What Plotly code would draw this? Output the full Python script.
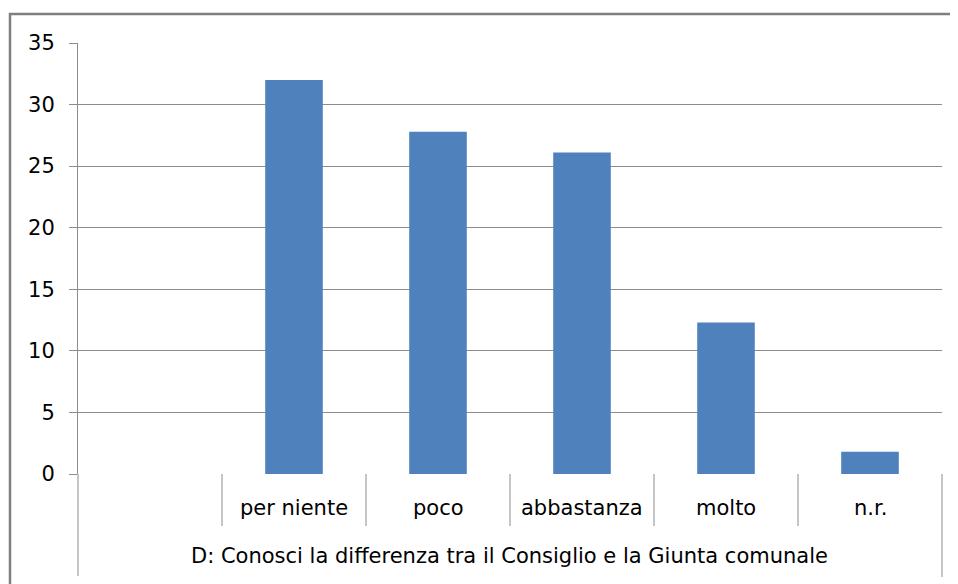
import plotly.graph_objects as go

categories = ["per niente", "poco", "abbastanza", "molto", "n.r."]
values = [32, 27.8, 26.1, 12.3, 1.8]
y_ticks = [0, 5, 10, 15, 20, 25, 30, 35]
group_label = "D: Conosci la differenza tra il Consiglio e la Giunta comunale"

# the page body has an 8px margin, so the figure is drawn 8px in from the top-left
OFF = 8
W, H = 958 - OFF, 584 - OFF
L, T = 78 - OFF, 43 - OFF
R = W - (942 - OFF)
B = H - (474 - OFF)
ph = H - T - B
pw = W - L - R

def py(px):
    # page pixel y -> paper y
    return (474 - px) / ph

def pxx(px):
    # page pixel x -> paper x
    return (px - 78) / pw

FONT = "DejaVu Sans"
FS = 21
GRID = "#8c8c8c"

fig = go.Figure()
fig.add_trace(go.Bar(x=categories, y=values, width=0.4,
                     marker=dict(color="#4F81BD", line=dict(width=0))))

shapes = []
for i in range(len(categories)):
    shapes.append(dict(type="line", xref="x", yref="paper", x0=i - 0.5, x1=i - 0.5,
                       y0=0, y1=py(526), line=dict(color=GRID, width=1)))
shapes.append(dict(type="line", xref="paper", yref="paper", x0=0, x1=0,
                   y0=0, y1=py(576), line=dict(color=GRID, width=1)))
shapes.append(dict(type="line", xref="paper", yref="paper", x0=1, x1=1,
                   y0=0, y1=py(577), line=dict(color=GRID, width=1)))
shapes.append(dict(type="rect", xref="paper", yref="paper", x0=pxx(10), x1=pxx(990),
                   y0=py(620), y1=py(14), line=dict(color="#7f7f7f", width=2.5)))

annotations = []
for c in categories:
    annotations.append(dict(x=c, xref="x", y=py(508), yref="paper", text=c,
                            showarrow=False, xanchor="center", yanchor="middle",
                            font=dict(family=FONT, size=FS, color="#000000")))
annotations.append(dict(x=pxx(509), xref="paper", y=py(556), yref="paper", text=group_label,
                        showarrow=False, xanchor="center", yanchor="middle",
                        font=dict(family=FONT, size=FS, color="#000000")))

fig.update_layout(
    width=W, height=H,
    margin=dict(l=L, r=R, t=T, b=B, pad=0),
    paper_bgcolor="white", plot_bgcolor="white",
    showlegend=False,
    font=dict(family=FONT, size=FS, color="#000000"),
    xaxis=dict(type="category", range=[-1.5, 4.5], showticklabels=False,
               showgrid=False, zeroline=False, showline=False, ticks=""),
    yaxis=dict(range=[0, 35], tickvals=y_ticks, showgrid=True, gridcolor=GRID, gridwidth=1,
               zeroline=False, showline=True, linecolor=GRID, linewidth=1,
               ticks="outside", ticklen=8, tickcolor=GRID, tickwidth=1,
               ticklabelstandoff=10,
               tickfont=dict(family=FONT, size=FS, color="#000000")),
    shapes=shapes,
    annotations=annotations,
)

fig.write_html("out.html")
